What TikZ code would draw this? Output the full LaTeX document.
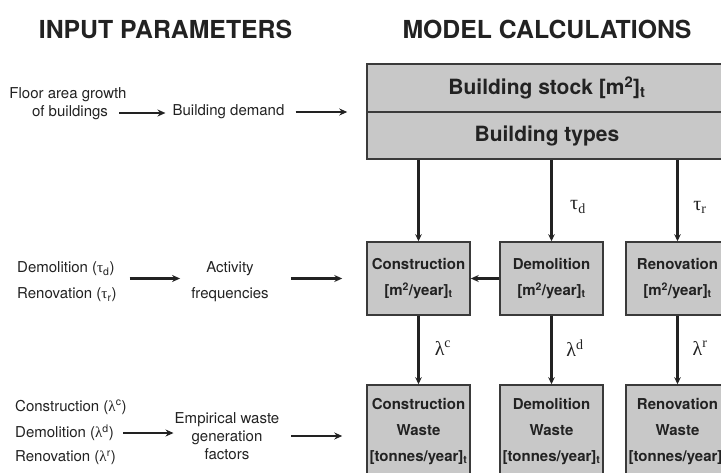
\documentclass[tikz,border=0pt]{standalone}
\usepackage{fontspec}
\setmainfont{TeX Gyre Heros}
\newfontfamily\grk{Liberation Serif}
\usetikzlibrary{arrows.meta}
\definecolor{boxfill}{HTML}{C8C8C8}
\definecolor{ink}{HTML}{222222}
\definecolor{edge}{HTML}{3A3A3A}
\begin{document}
\begin{tikzpicture}[x=1pt,y=-1pt,
  txt/.style={inner sep=0pt, text=ink, font=\fontsize{15}{18}\selectfont},
  hdr/.style={inner sep=0pt, text=ink, font=\fontsize{24.8}{28}\selectfont\bfseries},
  box/.style={draw=edge, line width=1.5pt, fill=boxfill, inner sep=0pt, text=ink, align=center, font=\fontsize{15}{26}\selectfont\bfseries},
  bigbox/.style={box, minimum width=360pt, font=\fontsize{21}{24}\selectfont\bfseries},
  midbox/.style={box, minimum width=103pt, minimum height=73pt},
  wastebox/.style={box, minimum width=103pt, minimum height=93pt},
  arr/.style={draw=ink, line width=2.4pt, -{Stealth[length=8pt,width=7pt]}},
  varr/.style={draw=ink, line width=2.4pt, -{Stealth[length=7pt,width=6.5pt]}},
  lab/.style={inner sep=0pt, text=ink, font=\fontsize{20}{22}\selectfont\grk}]
\useasboundingbox (0,0) rectangle (721,472);
\clip (0,0) rectangle (721,472);

% headers
\node[hdr] (h1) at (165.5,29) {INPUT PARAMETERS};
\node[hdr] (h2) at (547,29) {MODEL CALCULATIONS};

% model boxes
\node[bigbox, minimum height=48pt] (stock) at (547,88) {Building stock [m\textsuperscript{2}]\textsubscript{t}};
\node[bigbox, minimum height=47pt] (types) at (547,135.5) {Building types};

\node[midbox] (cons) at (418.5,278.5) {Construction\\{}[m\textsuperscript{2}/year]\textsubscript{t}};
\node[midbox] (dem) at (551.5,278.5) {Demolition\\{}[m\textsuperscript{2}/year]\textsubscript{t}};
\node[midbox] (ren) at (677.5,278.5) {Renovation\\{}[m\textsuperscript{2}/year]\textsubscript{t}};

\node[wastebox] (wcons) at (418.5,431.5) {Construction\\Waste\\{}[tonnes/year]\textsubscript{t}};
\node[wastebox] (wdem) at (551.5,431.5) {Demolition\\Waste\\{}[tonnes/year]\textsubscript{t}};
\node[wastebox] (wren) at (677.5,431.5) {Renovation\\Waste\\{}[tonnes/year]\textsubscript{t}};

% model arrows
\draw[varr] (types.south -| cons.north) -- (cons.north);
\draw[varr] (types.south -| dem.north) -- (dem.north);
\draw[varr] (types.south -| ren.north) -- (ren.north);
\draw[varr] (cons.south) -- (wcons.north);
\draw[varr] (dem.south) -- (wdem.north);
\draw[varr] (ren.south) -- (wren.north);
\draw[arr] (dem.west) -- (cons.east);

\node[lab] (td) at (578,207) {τ\textsubscript{d}};
\node[lab] (tr) at (700,207) {τ\textsubscript{r}};
\node[lab] (lc) at (443,348) {λ\textsuperscript{c}};
\node[lab] (ld) at (575,348) {λ\textsuperscript{d}};
\node[lab] (lr) at (700,348) {λ\textsuperscript{r}};

% row 1
\node[txt] (floorA) at (68,95) {Floor area growth};
\node[txt] (floorB) at (70,113) {of buildings};
\node[txt] (demand) at (228.5,112) {Building demand};
\draw[arr, shorten <=11pt, shorten >=7pt] (floorB.east) -- (floorB.east -| demand.west);
\draw[arr, shorten <=11pt, shorten >=19pt] (demand.east) -- (demand.east -| stock.west);

% row 2
\node[txt, anchor=west, align=left, font=\fontsize{15}{26}\selectfont] (dr) at (17,282) {Demolition ({\grk τ}\textsubscript{d})\\Renovation ({\grk τ}\textsubscript{r})};
\node[txt, align=center, font=\fontsize{15}{26}\selectfont] (act) at (230,282) {Activity\\frequencies};
\draw[arr, shorten <=13pt, shorten >=11pt] (dr.east |- cons.west) -- (act.west |- cons.west);
\draw[arr, shorten <=22pt, shorten >=24pt] (act.east |- cons.west) -- (cons.west);

% row 3
\node[txt, anchor=west] (lamc) at (15,407) {Construction ({\grk λ}\textsuperscript{c})};
\node[txt, anchor=west] (lamd) at (15,433) {Demolition ({\grk λ}\textsuperscript{d})};
\node[txt, anchor=west] (lamr) at (15,458) {Renovation ({\grk λ}\textsuperscript{r})};
\node[txt, align=center] (emp) at (227,436) {Empirical waste\\generation\\factors};
\draw[arr, shorten <=9pt, shorten >=1pt] (lamd.east) -- (lamd.east -| emp.west);
\draw[arr, shorten <=12pt, shorten >=24pt] (emp.east) -- (emp.east -| wcons.west);
\end{tikzpicture}
\end{document}
